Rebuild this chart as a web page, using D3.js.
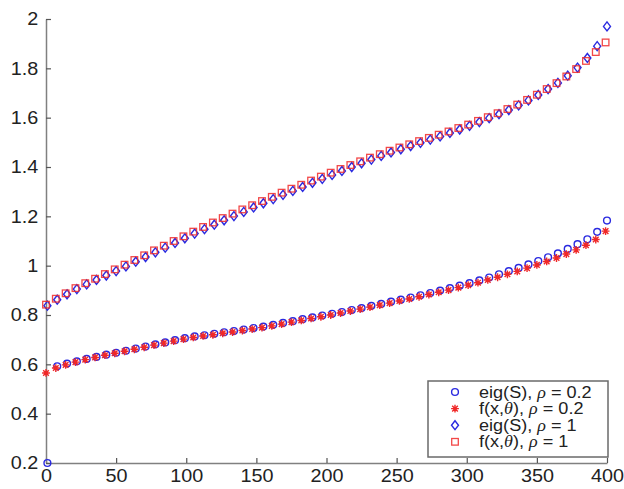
<!DOCTYPE html>
<html>
<head>
<meta charset="utf-8">
<script src="https://cdn.jsdelivr.net/npm/d3@7/dist/d3.min.js"></script>
<style>
  html, body { margin: 0; padding: 0; background: #fff; }
  svg { display: block; }
</style>
</head>
<body>
<svg id="chart" width="624" height="489"></svg>
<script>
// ---------- DATA ----------
const xEig = [1, 8, 15, 22, 29, 36, 43, 50, 57, 64, 71, 78, 85, 92, 99, 106, 113, 120, 127, 134, 141, 148, 155, 162, 169, 176, 183, 190, 197, 204, 211, 218, 225, 232, 239, 246, 253, 260, 267, 274, 281, 288, 295, 302, 309, 316, 323, 330, 337, 344, 351, 358, 365, 372, 379, 386, 393, 400];
const xF = [0, 7, 14, 21, 28, 35, 42, 49, 56, 63, 70, 77, 84, 91, 98, 105, 112, 119, 126, 133, 140, 147, 154, 161, 168, 175, 182, 189, 196, 203, 210, 217, 224, 231, 238, 245, 252, 259, 266, 273, 280, 287, 294, 301, 308, 315, 322, 329, 336, 343, 350, 357, 364, 371, 378, 385, 392, 399];

// eig(S), rho = 0.2
const eigLow = [0.200, 0.592, 0.603, 0.612, 0.622, 0.630, 0.639, 0.647, 0.655, 0.664, 0.672, 0.681, 0.689, 0.698, 0.706, 0.713, 0.718, 0.724, 0.730, 0.735, 0.741, 0.747, 0.753, 0.760, 0.768, 0.775, 0.783, 0.790, 0.798, 0.805, 0.812, 0.820, 0.828, 0.837, 0.845, 0.854, 0.862, 0.871, 0.880, 0.889, 0.899, 0.909, 0.919, 0.929, 0.940, 0.952, 0.965, 0.978, 0.991, 1.005, 1.019, 1.034, 1.050, 1.068, 1.087, 1.107, 1.137, 1.183];
// f(x,theta), rho = 0.2
const fLow = [0.565, 0.585, 0.598, 0.609, 0.619, 0.628, 0.637, 0.645, 0.653, 0.661, 0.669, 0.678, 0.686, 0.694, 0.702, 0.709, 0.715, 0.720, 0.726, 0.731, 0.737, 0.743, 0.749, 0.756, 0.763, 0.771, 0.778, 0.786, 0.793, 0.800, 0.808, 0.816, 0.824, 0.832, 0.840, 0.848, 0.857, 0.865, 0.874, 0.883, 0.892, 0.901, 0.911, 0.921, 0.931, 0.942, 0.953, 0.965, 0.977, 0.990, 1.003, 1.017, 1.031, 1.047, 1.064, 1.083, 1.106, 1.140];
// eig(S), rho = 1
const eigHigh = [0.838, 0.862, 0.884, 0.905, 0.924, 0.942, 0.960, 0.978, 0.997, 1.016, 1.035, 1.054, 1.073, 1.092, 1.111, 1.130, 1.148, 1.166, 1.184, 1.201, 1.218, 1.236, 1.253, 1.270, 1.287, 1.303, 1.319, 1.336, 1.352, 1.368, 1.384, 1.400, 1.415, 1.430, 1.445, 1.459, 1.472, 1.485, 1.498, 1.511, 1.524, 1.538, 1.552, 1.567, 1.582, 1.598, 1.614, 1.631, 1.650, 1.670, 1.692, 1.716, 1.741, 1.770, 1.803, 1.842, 1.890, 1.970];
// f(x,theta), rho = 1
const fHigh = [0.842, 0.866, 0.888, 0.909, 0.929, 0.947, 0.966, 0.985, 1.004, 1.023, 1.042, 1.062, 1.081, 1.100, 1.119, 1.138, 1.157, 1.175, 1.193, 1.211, 1.228, 1.245, 1.262, 1.279, 1.296, 1.312, 1.328, 1.345, 1.361, 1.377, 1.392, 1.408, 1.423, 1.438, 1.452, 1.466, 1.479, 1.492, 1.505, 1.518, 1.531, 1.544, 1.558, 1.572, 1.587, 1.602, 1.618, 1.635, 1.653, 1.672, 1.693, 1.716, 1.740, 1.767, 1.797, 1.830, 1.866, 1.905];

const xTicks = [0, 50, 100, 150, 200, 250, 300, 350, 400];
const yTicks = [0.2, 0.4, 0.6, 0.8, 1, 1.2, 1.4, 1.6, 1.8, 2];
const yTickLabels = ["0.2", "0.4", "0.6", "0.8", "1", "1.2", "1.4", "1.6", "1.8", "2"];

const legendItems = [
  { pre: "eig(S), ", val: "0.2", marker: "circle" },
  { pre: "f(x,", theta: true, val: "0.2", marker: "star" },
  { pre: "eig(S), ", val: "1", marker: "diamond" },
  { pre: "f(x,", theta: true, val: "1", marker: "square" }
];

// ---------- DRAW ----------
const BLUE = "#2a2ae0";
const RED = "#f02828";
const AXIS = "#808080";
const TEXT = "#222";
const SX = 1.1;

const svg = d3.select("#chart");
const x = d3.scaleLinear().domain([0, 400]).range([46, 607]);
const y = d3.scaleLinear().domain([0.2, 2]).range([463, 19]);

// axes
const gx = svg.append("g").attr("transform", `translate(0,${y(0.2)})`)
  .call(d3.axisBottom(x).tickValues(xTicks).tickSize(-5).tickSizeOuter(0).tickPadding(6));
const gy = svg.append("g").attr("transform", `translate(${x(0)},0)`)
  .call(d3.axisLeft(y).tickValues(yTicks).tickSize(-5).tickSizeOuter(0).tickPadding(7)
    .tickFormat((d, i) => yTickLabels[i]));

[gx, gy].forEach(g => {
  g.select(".domain").attr("stroke", AXIS).attr("stroke-width", 1.5);
  g.selectAll(".tick line").attr("stroke", "#555").attr("stroke-width", 1.2);
  g.selectAll(".tick text")
    .attr("fill", TEXT)
    .style("font-family", "'Liberation Sans', Arial, sans-serif")
    .style("font-size", "18px");
});
gx.selectAll(".tick text").attr("transform", `scale(${SX},1)`);
gy.selectAll(".tick text").attr("transform", `scale(${SX},1)`);

// marker drawers
function drawMarker(g, type, cx, cy) {
  if (type === "circle") {
    g.append("circle").attr("cx", cx).attr("cy", cy).attr("r", 3.4)
      .attr("fill", "none").attr("stroke", BLUE).attr("stroke-width", 1.4);
  } else if (type === "diamond") {
    const w = 3.5, h = 4.5;
    g.append("path")
      .attr("d", `M${cx},${cy - h}L${cx + w},${cy}L${cx},${cy + h}L${cx - w},${cy}Z`)
      .attr("fill", "none").attr("stroke", BLUE).attr("stroke-width", 1.4);
  } else if (type === "square") {
    const s = 3.3;
    g.append("rect").attr("x", cx - s).attr("y", cy - s).attr("width", 2 * s).attr("height", 2 * s)
      .attr("fill", "none").attr("stroke", RED).attr("stroke-width", 1.3).attr("stroke-opacity", 0.85);
  } else if (type === "star") {
    const r = 3.9, d = r * 0.72;
    g.append("path")
      .attr("d", `M${cx - r},${cy}H${cx + r}M${cx},${cy - r}V${cy + r}` +
        `M${cx - d},${cy - d}L${cx + d},${cy + d}M${cx - d},${cy + d}L${cx + d},${cy - d}`)
      .attr("fill", "none").attr("stroke", RED).attr("stroke-width", 1.4);
  }
}

const series = [
  { xs: xEig, ys: eigLow, marker: "circle" },
  { xs: xF, ys: fLow, marker: "star" },
  { xs: xEig, ys: eigHigh, marker: "diamond" },
  { xs: xF, ys: fHigh, marker: "square" }
];
series.forEach(s => {
  const g = svg.append("g");
  s.ys.forEach((v, i) => drawMarker(g, s.marker, x(s.xs[i]), y(v)));
});

// legend
const lg = svg.append("g");
lg.append("rect").attr("x", 428).attr("y", 381).attr("width", 180).attr("height", 76)
  .attr("fill", "#fff").attr("stroke", "#6a6a6a").attr("stroke-width", 1.5);
legendItems.forEach((it, i) => {
  const cy = 392 + i * 16.6;
  drawMarker(lg, it.marker, 455, cy);
  const t = lg.append("text")
    .attr("transform", `translate(479,${cy + 5.5}) scale(1.13,1)`)
    .attr("fill", TEXT)
    .style("font-family", "'Liberation Sans', Arial, sans-serif")
    .style("font-size", "16px");
  t.append("tspan").text(it.pre);
  if (it.theta) {
    t.append("tspan").text("θ").style("font-family", "'Liberation Serif', serif").style("font-style", "italic");
    t.append("tspan").text("), ");
  }
  t.append("tspan").text("ρ").style("font-family", "'Liberation Serif', serif").style("font-style", "italic");
  t.append("tspan").text(" = " + it.val);
});
</script>
</body>
</html>
